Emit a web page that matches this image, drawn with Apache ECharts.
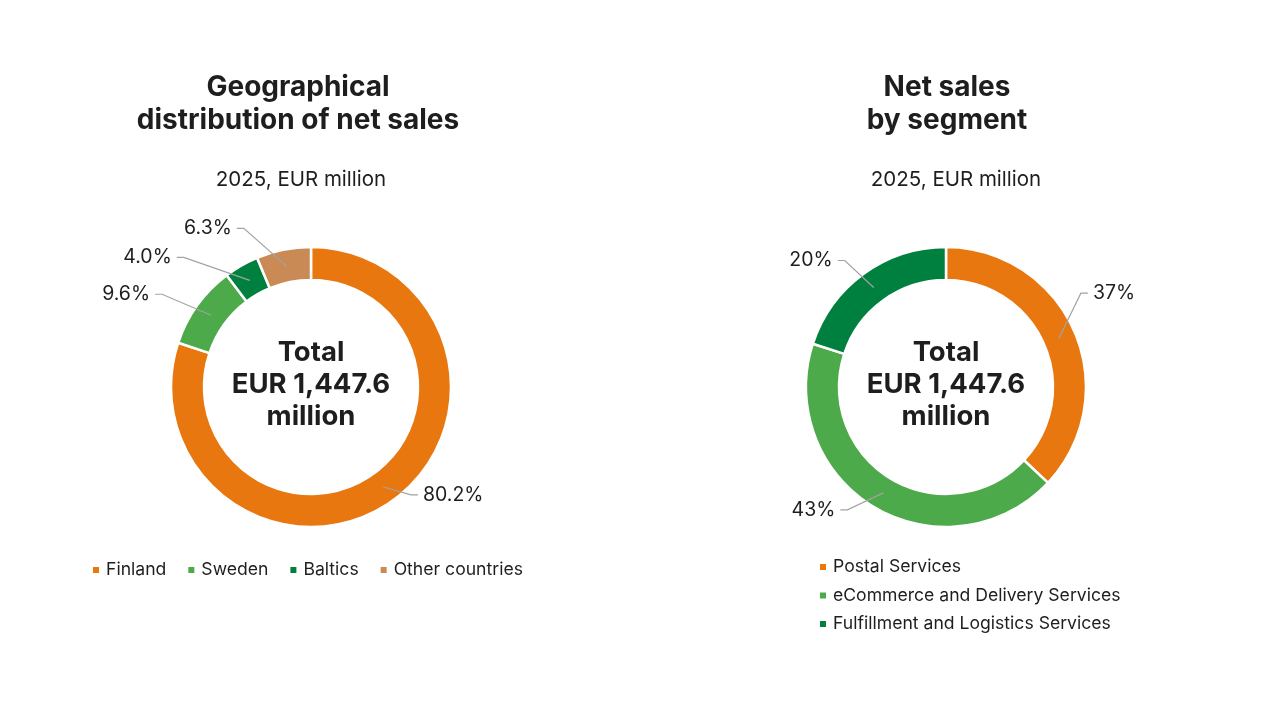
<!DOCTYPE html>
<html>
<head>
<meta charset="utf-8">
<title>Net sales 2025</title>
<script src="https://cdn.jsdelivr.net/npm/echarts@6/dist/echarts.min.js"></script>
<style>
  html, body { margin: 0; padding: 0; background: #fff; }
  #chart { width: 1268px; height: 713px; }
</style>
</head>
<body>
<div id="chart"></div>
<script>
// data
var geoNames = ['Finland', 'Sweden', 'Baltics', 'Other countries'];
var geoShares = [80.2, 9.6, 4.0, 6.3];
var segNames = ['Postal Services', 'eCommerce and Delivery Services', 'Fulfillment and Logistics Services'];
var segShares = [37, 43, 20];
var totalText = 'Total\nEUR 1,447.6\nmillion';

// layout only: where each label's leader line ends, relative to its anchor in the ring
var geoLabelOffsets = [[35, 8], [-56, -21], [-73, -23], [-50, -38]];
var segLabelOffsets = [[29, -45], [-43, 17], [-36, -27]];

var geoColors = ['#e8770f', '#4caa4b', '#00803e', '#c98a55'];
var segColors = ['#e8770f', '#4caa4b', '#00803e'];
var font = 'Inter';
var ink = '#1e1e1e';

var chart = echarts.init(document.getElementById('chart'));

function toData(names, vals, colors) {
    return names.map(function (n, i) {
        return { name: n, value: vals[i], itemStyle: { color: colors[i] } };
    });
}

function layoutFor(offsets) {
    return function (params) {
        var p0 = params.labelLinePoints[0];
        var off = offsets[params.dataIndex];
        var dir = off[0] < 0 ? -1 : 1;
        var p2 = [p0[0] + off[0], p0[1] + off[1]];
        var p1 = [p2[0] - dir * 7, p2[1]];
        return {
            x: p2[0] + dir * 5,
            y: p2[1],
            align: dir < 0 ? 'right' : 'left',
            verticalAlign: 'middle',
            labelLinePoints: [p0, p1, p2]
        };
    };
}

function ringSeries(center, data) {
    return {
        type: 'pie',
        center: center,
        radius: [107, 140],
        startAngle: 90,
        silent: true,
        label: { show: false },
        labelLine: { show: false },
        itemStyle: { borderColor: '#fff', borderWidth: 2.5 },
        data: data
    };
}

function labelSeries(center, names, vals, offsets, digits) {
    return {
        type: 'pie',
        center: center,
        radius: [0, 123],
        startAngle: 90,
        silent: true,
        z: 5,
        avoidLabelOverlap: false,
        itemStyle: { color: 'rgba(0,0,0,0)' },
        label: {
            show: true,
            position: 'outside',
            fontFamily: font,
            fontSize: 19.5,
            color: ink,
            formatter: function (p) { return p.value.toFixed(digits) + '%'; }
        },
        labelLine: { show: true, length: 10, length2: 8, lineStyle: { color: '#a3a3a3', width: 1.2 } },
        labelLayout: layoutFor(offsets),
        data: names.map(function (n, i) { return { name: n, value: vals[i] }; })
    };
}

var titleStyle = { fontFamily: font, fontSize: 28, fontWeight: 'bold', lineHeight: 33, color: ink };
var subStyle = { fontFamily: font, fontSize: 20.5, fontWeight: 'normal', color: ink };
var totalStyle = { fontFamily: font, fontSize: 27.5, fontWeight: 'bold', lineHeight: 32, color: ink };
var legendText = { fontFamily: font, fontSize: 17.6, color: ink, padding: [0, 0, 0, 1] };

chart.setOption({
    backgroundColor: '#ffffff',
    textStyle: { fontFamily: font },
    title: [
        { text: 'Geographical\ndistribution of net sales', left: 293, top: 66, textAlign: 'center', textStyle: titleStyle },
        { text: '2025, EUR million', left: 296, top: 164, textAlign: 'center', textStyle: subStyle },
        { text: 'Net sales\nby segment', left: 942, top: 66, textAlign: 'center', textStyle: titleStyle },
        { text: '2025, EUR million', left: 951, top: 164, textAlign: 'center', textStyle: subStyle },
        { text: totalText, left: 306, top: 332, textAlign: 'center', textStyle: totalStyle },
        { text: totalText, left: 941, top: 332, textAlign: 'center', textStyle: totalStyle }
    ],
    legend: [
        {
            data: geoNames, orient: 'horizontal', left: 86, top: 556,
            icon: 'rect', itemWidth: 8, itemHeight: 8, itemGap: 20,
            selectedMode: false,
            textStyle: legendText
        },
        {
            data: segNames, orient: 'vertical', left: 813, top: 553,
            icon: 'rect', itemWidth: 8, itemHeight: 8, itemGap: 10.5,
            selectedMode: false,
            textStyle: legendText
        }
    ],
    series: [
        ringSeries([311, 387], toData(geoNames, geoShares, geoColors)),
        ringSeries([946, 387], toData(segNames, segShares, segColors)),
        labelSeries([311, 387], geoNames, geoShares, geoLabelOffsets, 1),
        labelSeries([946, 387], segNames, segShares, segLabelOffsets, 0)
    ]
});
</script>
</body>
</html>
